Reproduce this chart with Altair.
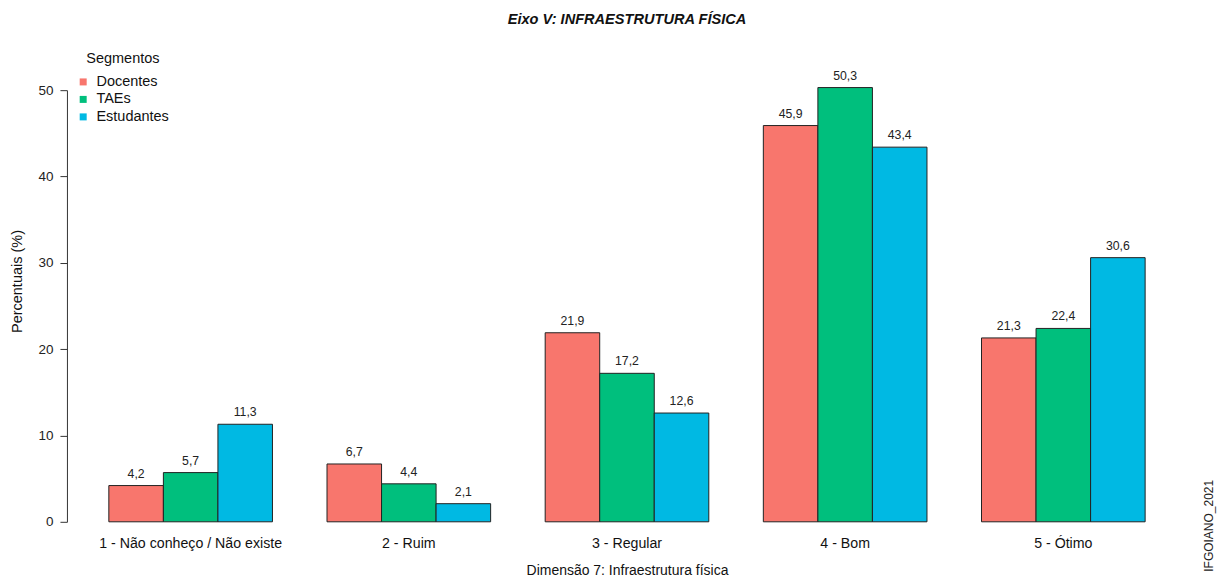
import altair as alt
import pandas as pd

categorias = ["1 - Não conheço / Não existe", "2 - Ruim", "3 - Regular", "4 - Bom", "5 - Ótimo"]
segmentos = ["Docentes", "TAEs", "Estudantes"]
docentes = [4.2, 6.7, 21.9, 45.9, 21.3]
taes = [5.7, 4.4, 17.2, 50.3, 22.4]
estudantes = [11.3, 2.1, 12.6, 43.4, 30.6]
cores = ["#F8766D", "#00BF7D", "#00B9E3"]
y_ticks = [0, 10, 20, 30, 40, 50]

rows = []
for seg, vals in zip(segmentos, [docentes, taes, estudantes]):
    for cat, v in zip(categorias, vals):
        rows.append({"cat": cat, "seg": seg, "val": v, "lab": f"{v:.1f}".replace(".", ",")})
df = pd.DataFrame(rows)

FONT = "Liberation Sans"
W, H = 1121, 432

x_enc = alt.X("cat:N", sort=categorias,
              scale=alt.Scale(paddingInner=0.25, paddingOuter=0.192),
              axis=alt.Axis(title="Dimensão 7: Infraestrutura física", labelAngle=0,
                            domain=False, ticks=False, labelPadding=15, labelLimit=500,
                            labelFontSize=14.2, labelColor="#111", titleFontSize=14,
                            titleFontWeight="normal", titleColor="#111",
                            titleY=49, titleBaseline="middle"))
xo_enc = alt.XOffset("seg:N", sort=segmentos, scale=alt.Scale(paddingInner=0, paddingOuter=0))

base = alt.Chart(df)

bars = base.mark_bar(stroke="#222", strokeWidth=1, opacity=1).encode(
    x=x_enc,
    xOffset=xo_enc,
    y=alt.Y("val:Q", scale=alt.Scale(domain=[0, 50], nice=False, zero=True),
            axis=alt.Axis(title="Percentuais (%)", values=y_ticks, grid=False,
                          tickSize=7, tickColor="#333", domainColor="#333",
                          labelFontSize=13.5, labelColor="#222", labelPadding=7,
                          titleFontSize=14.5, titleFontWeight="normal", titleColor="#111",
                          titleX=-49, titleY=191, titleAngle=270,
                          titleAlign="center", titleBaseline="middle")),
    color=alt.Color("seg:N", sort=segmentos,
                    scale=alt.Scale(domain=segmentos, range=cores),
                    legend=alt.Legend(title="Segmentos", orient="none", legendX=9, legendY=-38,
                                      symbolType="square", symbolSize=49, symbolStrokeWidth=0,
                                      labelFontSize=14.5, titleFontSize=14.5, titleFontWeight="normal",
                                      titleAnchor="middle", titleBaseline="top", titlePadding=8,
                                      rowPadding=2.5, labelOffset=6, padding=0,
                                      labelColor="#111", titleColor="#111")),
)

labels = base.mark_text(baseline="bottom", dy=-5, fontSize=12.3, color="#222", font=FONT).encode(
    x=alt.X("cat:N", sort=categorias),
    xOffset=alt.XOffset("seg:N", sort=segmentos),
    y="val:Q",
    text="lab:N",
)

marca = alt.Chart(pd.DataFrame({"t": ["IFGOIANO_2021"]})).mark_text(
    angle=270, align="left", baseline="middle", fontSize=12, color="#222", font=FONT
).encode(text="t:N", x=alt.value(1143), y=alt.value(482))

chart = alt.layer(bars, labels, marca).properties(
    width=W, height=H,
    autosize=alt.AutoSizeParams(type="none"),
    padding={"left": 59, "top": 82, "right": 30, "bottom": 55},
    title=alt.TitleParams("Eixo V: INFRAESTRUTURA FÍSICA", fontSize=14.6, fontWeight="bold",
                          fontStyle="italic", font=FONT, color="#111", offset=26, anchor="middle"),
).configure(font=FONT).configure_view(stroke=None).configure_axis(labelFont=FONT, titleFont=FONT)\
 .configure_legend(labelFont=FONT, titleFont=FONT)

chart.save("out.html", embed_options={"renderer": "svg", "actions": False})
